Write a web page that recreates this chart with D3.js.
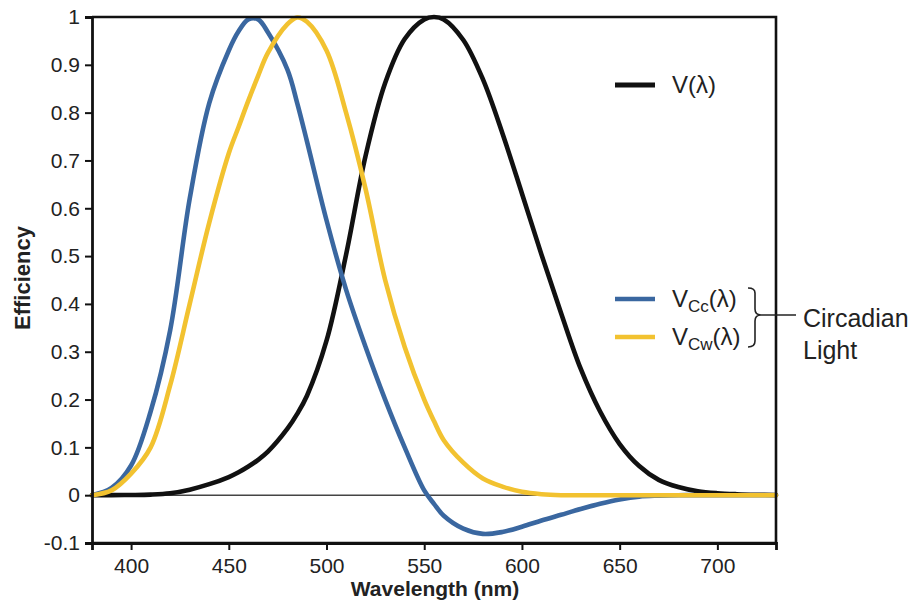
<!DOCTYPE html>
<html>
<head>
<meta charset="utf-8">
<script src="https://cdn.jsdelivr.net/npm/d3@7"></script>
<style>
  body { margin: 0; background: #fff; }
  svg text { font-family: "Liberation Sans", Arial, Helvetica, sans-serif; fill: #222; }
</style>
</head>
<body>
<svg id="chart" width="915" height="602"></svg>
<script>
// ---- data ----
const wavelengths = [380, 390, 400, 410, 420, 430, 440, 450, 455, 460, 465, 470, 480, 485, 490, 500, 510, 520, 530, 540, 550, 555, 560, 570, 580, 590, 600, 610, 620, 630, 640, 650, 660, 670, 680, 690, 700, 710, 720, 730];
const photopicV = [0.00004, 0.00012, 0.0004, 0.0012, 0.004, 0.0116, 0.023, 0.038, 0.048, 0.06, 0.074, 0.091, 0.139, 0.17, 0.208, 0.323, 0.503, 0.71, 0.862, 0.954, 0.995, 1.0, 0.995, 0.952, 0.87, 0.757, 0.631, 0.503, 0.381, 0.265, 0.175, 0.107, 0.061, 0.032, 0.017, 0.0082, 0.0041, 0.0021, 0.001, 0.0005];
const circadianCc = [0, 0.015, 0.062, 0.175, 0.345, 0.62, 0.82, 0.93, 0.97, 0.995, 0.995, 0.968, 0.89, 0.82, 0.74, 0.575, 0.43, 0.31, 0.2, 0.1, 0.01, -0.018, -0.043, -0.07, -0.081, -0.077, -0.066, -0.053, -0.041, -0.029, -0.018, -0.009, -0.003, -0.001, 0, 0, 0, 0, 0, 0];
const circadianCw = [0, 0.01, 0.045, 0.1, 0.23, 0.4, 0.57, 0.715, 0.77, 0.825, 0.877, 0.925, 0.985, 0.999, 0.99, 0.93, 0.8, 0.64, 0.45, 0.31, 0.2, 0.155, 0.115, 0.068, 0.035, 0.018, 0.007, 0.002, 0, 0, 0, 0, 0, 0, 0, 0, 0, 0, 0, 0];
const yTickValues = [-0.1, 0, 0.1, 0.2, 0.3, 0.4, 0.5, 0.6, 0.7, 0.8, 0.9, 1];
const yTickLabels = ["-0.1", "0", "0.1", "0.2", "0.3", "0.4", "0.5", "0.6", "0.7", "0.8", "0.9", "1"];
const xTickValues = [400, 450, 500, 550, 600, 650, 700];
const seriesNames = ["V(λ)", "VCc(λ)", "VCw(λ)"];
const seriesColors = ["#111111", "#3a67a0", "#f2c230"];

// ---- layout ----
const svg = d3.select("#chart");
const plotL = 92, plotR = 776, plotT = 17, plotB = 543;
const x = d3.scaleLinear().domain([380, 730]).range([plotL, plotR]);
const y = d3.scaleLinear().domain([-0.1, 1]).range([plotB, plotT]);

// zero line
svg.append("line")
  .attr("x1", plotL).attr("x2", plotR)
  .attr("y1", y(0)).attr("y2", y(0))
  .attr("stroke", "#444").attr("stroke-width", 1.6);

// curves
const series = [photopicV, circadianCc, circadianCw];
const line = d3.line()
  .x(d => x(d[0]))
  .y(d => y(d[1]))
  .curve(d3.curveCatmullRom.alpha(0.5));
series.forEach((vals, i) => {
  svg.append("path")
    .datum(wavelengths.map((w, j) => [w, vals[j]]))
    .attr("d", line)
    .attr("fill", "none")
    .attr("stroke", seriesColors[i])
    .attr("stroke-width", 4.6)
    .attr("stroke-linejoin", "round")
    .attr("stroke-linecap", "round");
});

// frame
svg.append("path")
  .attr("d", `M${plotL},${plotT}H${plotR}V${plotB}H${plotL}`)
  .attr("fill", "none").attr("stroke", "#111").attr("stroke-width", 2.6);

// axes
const yAxis = d3.axisLeft(y)
  .tickValues(yTickValues)
  .tickFormat((d, i) => yTickLabels[i])
  .tickSize(7).tickPadding(5);
const gy = svg.append("g").attr("transform", `translate(${plotL},0)`).call(yAxis);
gy.select(".domain").attr("stroke", "#111").attr("stroke-width", 2.8);
gy.selectAll(".tick line").attr("stroke", "#111").attr("stroke-width", 2);
gy.selectAll(".tick text").attr("font-size", 21).attr("fill", "#222")
  .attr("font-family", "'Liberation Sans', Arial, sans-serif");

const xAxis = d3.axisBottom(x)
  .tickValues(xTickValues)
  .tickFormat(d3.format("d"))
  .tickSize(7).tickPadding(8);
const gx = svg.append("g").attr("transform", `translate(0,${plotB})`).call(xAxis);
gx.select(".domain").attr("stroke", "#111").attr("stroke-width", 2.8);
gx.selectAll(".tick line").attr("stroke", "#111").attr("stroke-width", 2);
gx.selectAll(".tick text").attr("font-size", 21).attr("fill", "#222")
  .attr("font-family", "'Liberation Sans', Arial, sans-serif");

// axis titles
svg.append("text")
  .attr("x", 435).attr("y", 596)
  .attr("text-anchor", "middle")
  .attr("font-size", 21).attr("font-weight", "bold")
  .text("Wavelength (nm)");
svg.append("text")
  .attr("transform", "translate(30,278) rotate(-90)")
  .attr("text-anchor", "middle")
  .attr("font-size", 22).attr("font-weight", "bold")
  .text("Efficiency");

// legend
const legY = [85, 299, 337];
const legSub = [null, "Cc", "Cw"];
legY.forEach((ly, i) => {
  svg.append("line")
    .attr("x1", 615).attr("x2", 655).attr("y1", ly).attr("y2", ly)
    .attr("stroke", seriesColors[i]).attr("stroke-width", i === 0 ? 5 : 4.5);
  const t = svg.append("text").attr("x", 672).attr("y", ly + 8).attr("font-size", 24);
  if (legSub[i] === null) {
    t.text(seriesNames[i]);
  } else {
    t.append("tspan").text("V");
    t.append("tspan").attr("font-size", 17).attr("dy", 5).text(legSub[i]);
    t.append("tspan").attr("dy", -5).text("(λ)");
  }
});

// brace
svg.append("path")
  .attr("d", "M748,288 Q755,288 755,293 L755,309 Q755,315 761,315 Q755,315 755,321 L755,341 Q755,347 748,347")
  .attr("fill", "none").attr("stroke", "#222").attr("stroke-width", 1.6);
svg.append("line")
  .attr("x1", 761).attr("x2", 796).attr("y1", 315).attr("y2", 315)
  .attr("stroke", "#222").attr("stroke-width", 1.6);
svg.append("text").attr("x", 803).attr("y", 327).attr("font-size", 25).text("Circadian");
svg.append("text").attr("x", 803).attr("y", 359).attr("font-size", 25).text("Light");
</script>
</body>
</html>
